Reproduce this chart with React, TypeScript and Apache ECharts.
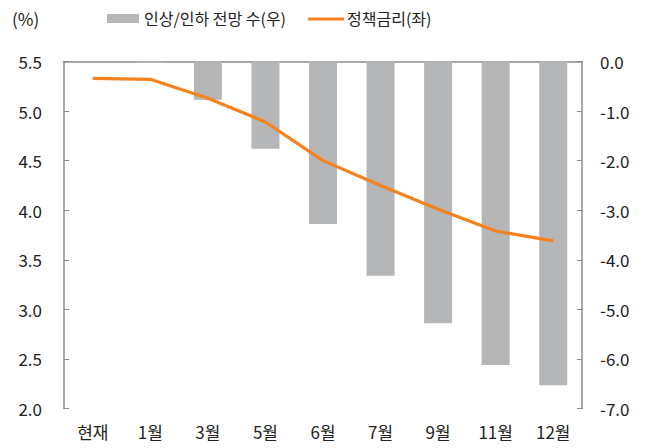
import React, { useEffect, useRef } from "react";
import * as echarts from "echarts";

const categories = ["현재", "1월", "3월", "5월", "6월", "7월", "9월", "11월", "12월"];
const rateCounts = [0, -0.03, -0.77, -1.76, -3.28, -4.32, -5.28, -6.12, -6.53];
const policyRate = [5.33, 5.32, 5.13, 4.89, 4.5, 4.25, 4.01, 3.79, 3.69];
const barName = "인상/인하 전망 수(우)";
const lineName = "정책금리(좌)";

const FONT = "'Noto Sans CJK KR', 'Noto Sans', sans-serif";
const TEXT = "#222";
const AXIS = "#8c8c8c";
const BAR = "#b5b6b8";
const LINE = "#f5821f";

export default function App() {
  const ref = useRef<HTMLDivElement>(null);
  useEffect(() => {
    if (!ref.current) return;
    const chart = echarts.init(ref.current, null, { renderer: "svg" });
    chart.setOption({
      animation: false,
      textStyle: { fontFamily: FONT },
      grid: { left: 64, right: 70, top: 61.5, bottom: 39.5 },
      graphic: [
        {
          type: "text",
          x: 12,
          y: 18,
          style: { text: "(%)", fontSize: 17, fill: TEXT, fontFamily: FONT, verticalAlign: "middle" },
        },
        { type: "rect", shape: { x: 107, y: 14, width: 32, height: 9 }, style: { fill: BAR } },
        {
          type: "text",
          x: 144,
          y: 18,
          style: { text: barName, fontSize: 16, fill: TEXT, fontFamily: FONT, verticalAlign: "middle" },
        },
        {
          type: "line",
          shape: { x1: 308, y1: 19, x2: 344, y2: 19 },
          style: { stroke: LINE, lineWidth: 3 },
        },
        {
          type: "text",
          x: 347,
          y: 18,
          style: { text: lineName, fontSize: 16, fill: TEXT, fontFamily: FONT, verticalAlign: "middle" },
        },
      ],
      xAxis: {
        type: "category",
        data: categories,
        boundaryGap: true,
        axisLine: { lineStyle: { color: AXIS, width: 1.5 } },
        axisTick: { inside: true, length: 5, lineStyle: { color: AXIS } },
        axisLabel: { fontSize: 17, color: TEXT, margin: 14, fontFamily: FONT },
      },
      yAxis: [
        {
          type: "value",
          min: 2,
          max: 5.5,
          interval: 0.5,
          position: "left",
          axisLine: { show: true, lineStyle: { color: AXIS, width: 1.5 } },
          axisTick: { show: true, inside: true, length: 5, lineStyle: { color: AXIS } },
          splitLine: { show: false },
          axisLabel: {
            fontSize: 17,
            color: TEXT,
            margin: 22,
            fontFamily: FONT,
            formatter: (v: number) => v.toFixed(1),
          },
        },
        {
          type: "value",
          min: -7,
          max: 0,
          interval: 1,
          position: "right",
          axisLine: { show: true, lineStyle: { color: AXIS, width: 1.5 } },
          axisTick: { show: true, inside: true, length: 5, lineStyle: { color: AXIS } },
          splitLine: { show: false },
          axisLabel: {
            fontSize: 17,
            color: TEXT,
            margin: 18,
            fontFamily: FONT,
            formatter: (v: number) => v.toFixed(1),
          },
        },
      ],
      series: [
        {
          name: barName,
          type: "bar",
          yAxisIndex: 1,
          data: rateCounts,
          barWidth: 28,
          itemStyle: { color: BAR },
        },
        {
          name: lineName,
          type: "line",
          yAxisIndex: 0,
          data: policyRate,
          symbol: "none",
          lineStyle: { color: LINE, width: 3.2 },
          itemStyle: { color: LINE },
        },
      ],
    });
    return () => chart.dispose();
  }, []);
  return <div ref={ref} style={{ width: 652, height: 448, position: "absolute", left: 0, top: 0 }} />;
}
